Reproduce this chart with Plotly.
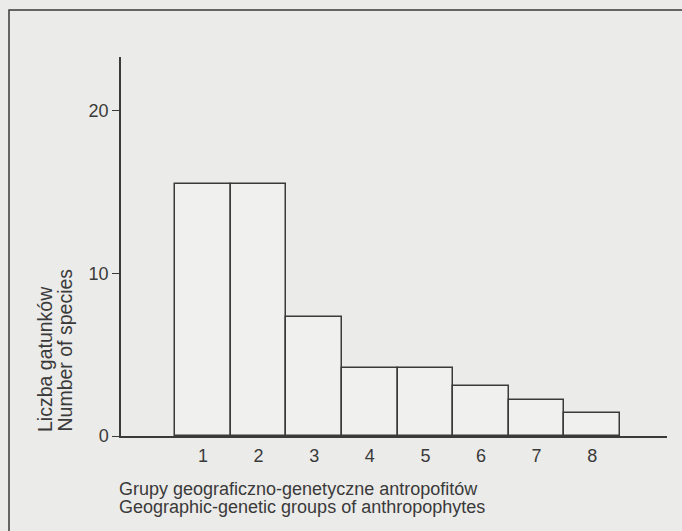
import plotly.graph_objects as go

groups = [1, 2, 3, 4, 5, 6, 7, 8]
species = [15.5, 15.5, 7.3, 4.2, 4.2, 3.1, 2.2, 1.4]
y_ticks = [0, 10, 20]
x_title = ["Grupy geograficzno-genetyczne antropofitów",
           "Geographic-genetic groups of anthropophytes"]
y_title = ["Liczba gatunków", "Number of species"]

W, H = 682, 531
L, R, T, B = 121, 15, 57, 95
pw, ph = W - L - R, H - T - B

def px_x(p):
    return (p - L) / pw

def px_y(p):
    return (H - B - p) / ph

BG = "#ebebe9"
INK = "#3a3a3a"
FONT = "Liberation Sans, Arial, sans-serif"

fig = go.Figure()
fig.add_trace(go.Bar(
    x=groups, y=species, width=1.0,
    marker=dict(color="rgba(240,240,238,1)", line=dict(color=INK, width=1.5)),
    hoverinfo="skip",
))

fig.update_layout(
    width=W, height=H,
    margin=dict(l=L, r=R, t=T, b=B),
    paper_bgcolor=BG, plot_bgcolor=BG,
    showlegend=False,
    font=dict(family=FONT, color=INK, size=18),
    bargap=0,
    xaxis=dict(range=[-0.475, 9.345], tickvals=groups, ticktext=[str(g) for g in groups],
               showgrid=False, zeroline=False, showline=True, linecolor=INK, linewidth=1.5,
               ticks="", tickfont=dict(size=18), ticklabelstandoff=3),
    yaxis=dict(range=[0, 23.3], tickvals=y_ticks, showgrid=False, zeroline=False,
               showline=True, linecolor=INK, linewidth=1.5, ticks="outside", ticklen=7,
               tickcolor=INK, tickwidth=1.2, tickfont=dict(size=18)),
)

anns = []
for i, t in enumerate(x_title):
    anns.append(dict(text=t, xref="paper", yref="paper", x=px_x(117), y=px_y(489 + 18 * i),
                     xanchor="left", yanchor="middle", showarrow=False,
                     font=dict(size=18, color=INK, family=FONT)))
for i, t in enumerate(y_title):
    anns.append(dict(text=t, xref="paper", yref="paper", x=px_x(45 + 19 * i), y=px_y(434),
                     xanchor="center", yanchor="bottom", textangle=-90, showarrow=False,
                     font=dict(size=19.5, color=INK, family=FONT)))
fig.update_layout(annotations=anns)

fig.add_shape(type="rect", xref="paper", yref="paper",
              x0=px_x(9), x1=px_x(700), y0=px_y(560), y1=px_y(10),
              line=dict(color=INK, width=1.5), fillcolor="rgba(0,0,0,0)", layer="below")

fig.write_html("out.html", config={"displayModeBar": False},
               post_script="document.body.style.margin='0';document.body.style.overflow='hidden';")
